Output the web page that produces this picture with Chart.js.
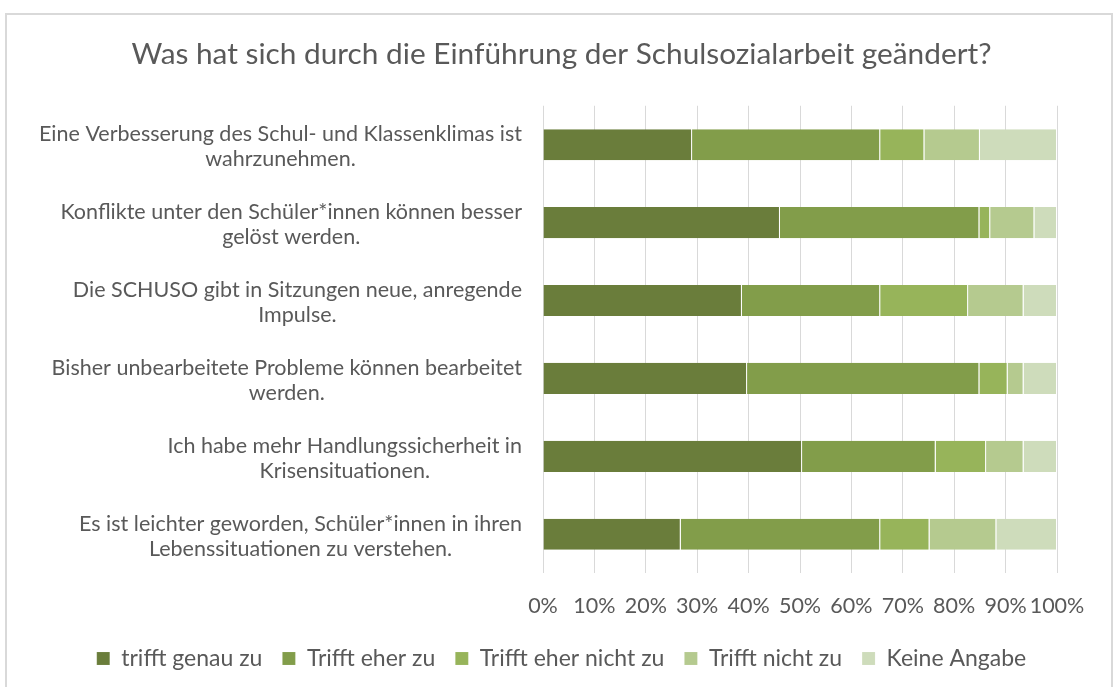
<!DOCTYPE html>
<html>
<head>
<meta charset="utf-8">
<script src="https://cdn.jsdelivr.net/npm/chart.js@4/dist/chart.umd.min.js"></script>
<style>
  html, body { margin: 0; padding: 0; background: #ffffff; }
  #wrap { position: absolute; left: 0; top: 0; width: 1113px; height: 687px; }
</style>
</head>
<body>
<div id="wrap"><canvas id="c" width="1113" height="687"></canvas></div>
<script>
const title = 'Was hat sich durch die Einführung der Schulsozialarbeit geändert?';

const categories = [
  ['Eine Verbesserung des Schul- und Klassenklimas ist', 'wahrzunehmen.'],
  ['Konflikte unter den Schüler*innen können besser', 'gelöst werden.'],
  ['Die SCHUSO gibt in Sitzungen neue, anregende', 'Impulse.'],
  ['Bisher unbearbeitete Probleme können bearbeitet', 'werden.'],
  ['Ich habe mehr Handlungssicherheit in', 'Krisensituationen.'],
  ['Es ist leichter geworden, Schüler*innen in ihren', 'Lebenssituationen zu verstehen.']
];

const seriesNames = ['trifft genau zu', 'Trifft eher zu', 'Trifft eher nicht zu', 'Trifft nicht zu', 'Keine Angabe'];

const trifftGenauZu     = [29.0, 46.1, 38.7, 39.7, 50.4, 26.8];
const trifftEherZu      = [36.6, 38.8, 26.9, 45.2, 26.0, 38.8];
const trifftEherNichtZu = [ 8.6,  2.1, 17.1,  5.5,  9.8,  9.6];
const trifftNichtZu     = [10.8,  8.6, 10.8,  3.1,  7.3, 13.0];
const keineAngabe       = [15.0,  4.4,  6.5,  6.5,  6.5, 11.8];

const xTicks = [0, 10, 20, 30, 40, 50, 60, 70, 80, 90, 100];

const colors = ['#6A7D3B', '#829D4A', '#97B45A', '#B5CA8F', '#CEDCBB'];
const seriesValues = [trifftGenauZu, trifftEherZu, trifftEherNichtZu, trifftNichtZu, keineAngabe];

const FONT = 'Lato';
const TEXT = '#595959';

const borderPlugin = {
  id: 'outerBorder',
  beforeDraw(chart) {
    const ctx = chart.ctx;
    ctx.save();
    ctx.strokeStyle = '#D9D9D9';
    ctx.lineWidth = 2;
    ctx.strokeRect(6, 14, 1106, 690);
    ctx.restore();
  }
};

const yLabelPlugin = {
  id: 'yLabels',
  afterDraw(chart) {
    const ctx = chart.ctx;
    const y = chart.scales.y;
    const rightEdge = chart.chartArea.left - 21;
    const lh = 25;
    ctx.save();
    ctx.font = '21.5px ' + FONT;
    ctx.fillStyle = TEXT;
    ctx.textAlign = 'center';
    ctx.textBaseline = 'middle';
    categories.forEach((lines, i) => {
      const cy = y.getPixelForValue(i) + 2;
      const w = Math.max(...lines.map(l => ctx.measureText(l).width));
      const cx = rightEdge - w / 2;
      const top = cy - (lines.length - 1) * lh / 2;
      lines.forEach((l, k) => ctx.fillText(l, cx, top + k * lh));
    });
    ctx.restore();
  }
};

new Chart(document.getElementById('c'), {
  type: 'bar',
  data: {
    labels: categories.map(l => l.join(' ')),
    datasets: seriesNames.map((name, i) => ({
      label: name,
      data: seriesValues[i],
      backgroundColor: colors[i],
      borderColor: 'rgba(255,255,255,0.45)',
      borderWidth: { top: 0, bottom: 0, left: 0, right: 1 },
      borderSkipped: false,
      barPercentage: 0.4,
      categoryPercentage: 1.0
    }))
  },
  options: {
    indexAxis: 'y',
    responsive: false,
    animation: false,
    layout: { padding: { left: 66, right: 56, top: 14, bottom: 7 } },
    scales: {
      x: {
        stacked: true,
        min: 0, max: 100,
        afterBuildTicks(scale) { scale.ticks = xTicks.map(v => ({ value: v })); },
        afterFit(scale) { scale.height -= 12; },
        grid: { color: '#D9D9D9', lineWidth: 1, drawTicks: false },
        border: { display: false },
        ticks: {
          color: TEXT,
          font: { family: FONT, size: 21.5 },
          padding: 20,
          callback: v => v + '%',
          maxRotation: 0,
          autoSkip: false
        }
      },
      y: {
        stacked: true,
        grid: { display: false },
        border: { display: false },
        ticks: { display: false },
        afterFit(scale) { scale.width = 543 - 66; }
      }
    },
    plugins: {
      title: {
        display: true,
        text: title,
        color: TEXT,
        font: { family: FONT, size: 29.8, weight: 'normal' },
        padding: { top: 23, bottom: 33 }
      },
      legend: {
        position: 'bottom',
        labels: {
          color: TEXT,
          font: { family: FONT, size: 23 },
          boxWidth: 13,
          boxHeight: 13,
          padding: 20
        }
      },
      tooltip: { enabled: false }
    }
  },
  plugins: [borderPlugin, yLabelPlugin]
});
</script>
</body>
</html>
